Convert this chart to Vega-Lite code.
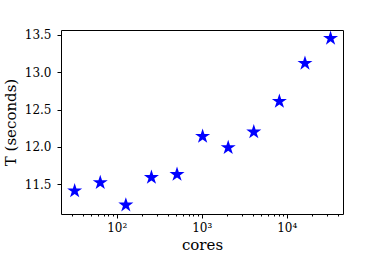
{
  "$schema": "https://vega.github.io/schema/vega-lite/v6.json",
  "width": 282,
  "height": 184,
  "autosize": "none",
  "padding": {"left": 61, "top": 30, "right": 39, "bottom": 41},
  "background": "white",
  "view": {"stroke": "black", "strokeWidth": 1},
  "config": {
    "font": "DejaVu Serif",
    "axis": {
      "labelFont": "DejaVu Serif",
      "titleFont": "DejaVu Serif",
      "labelFontSize": 12,
      "titleFontSize": 15,
      "titleFontWeight": "normal",
      "labelColor": "black",
      "titleColor": "black",
      "tickColor": "black",
      "domain": false,
      "grid": false
    }
  },
  "data": {
    "values": [
      {"cores": 32, "secs": 11.41},
      {"cores": 64, "secs": 11.52},
      {"cores": 128, "secs": 11.22},
      {"cores": 256, "secs": 11.59},
      {"cores": 512, "secs": 11.63},
      {"cores": 1024, "secs": 12.14},
      {"cores": 2048, "secs": 11.99},
      {"cores": 4096, "secs": 12.2},
      {"cores": 8192, "secs": 12.61},
      {"cores": 16384, "secs": 13.12},
      {"cores": 32768, "secs": 13.455}
    ]
  },
  "mark": {
    "type": "point",
    "shape": "M0,-1L0.2245,-0.309L0.9511,-0.309L0.3633,0.118L0.5878,0.809L0,0.382L-0.5878,0.809L-0.3633,0.118L-0.9511,-0.309L-0.2245,-0.309Z",
    "filled": true,
    "color": "#0000ff",
    "size": 250,
    "opacity": 1
  },
  "encoding": {
    "x": {
      "field": "cores",
      "type": "quantitative",
      "title": "cores",
      "scale": {"type": "log", "domain": [22.1, 45900], "nice": false},
      "axis": {
        "values": [30, 40, 50, 60, 70, 80, 90, 100, 200, 300, 400, 500, 600, 700, 800, 900, 1000, 2000, 3000, 4000, 5000, 6000, 7000, 8000, 9000, 10000, 20000, 30000, 40000],
        "labelExpr": "datum.value == 100 ? '10²' : datum.value == 1000 ? '10³' : datum.value == 10000 ? '10⁴' : ''",
        "labelOverlap": false,
        "labelFlush": false,
        "tickSize": {"condition": {"test": "datum.value == 100 || datum.value == 1000 || datum.value == 10000", "value": 4}, "value": 2},
        "labelPadding": 4,
        "titlePadding": 4
      }
    },
    "y": {
      "field": "secs",
      "type": "quantitative",
      "title": "T (seconds)",
      "scale": {"domain": [11.1, 13.567], "nice": false, "zero": false},
      "axis": {
        "values": [11.5, 12.0, 12.5, 13.0, 13.5],
        "format": ".1f",
        "tickSize": 4,
        "labelPadding": 6,
        "titlePadding": 6
      }
    }
  }
}
